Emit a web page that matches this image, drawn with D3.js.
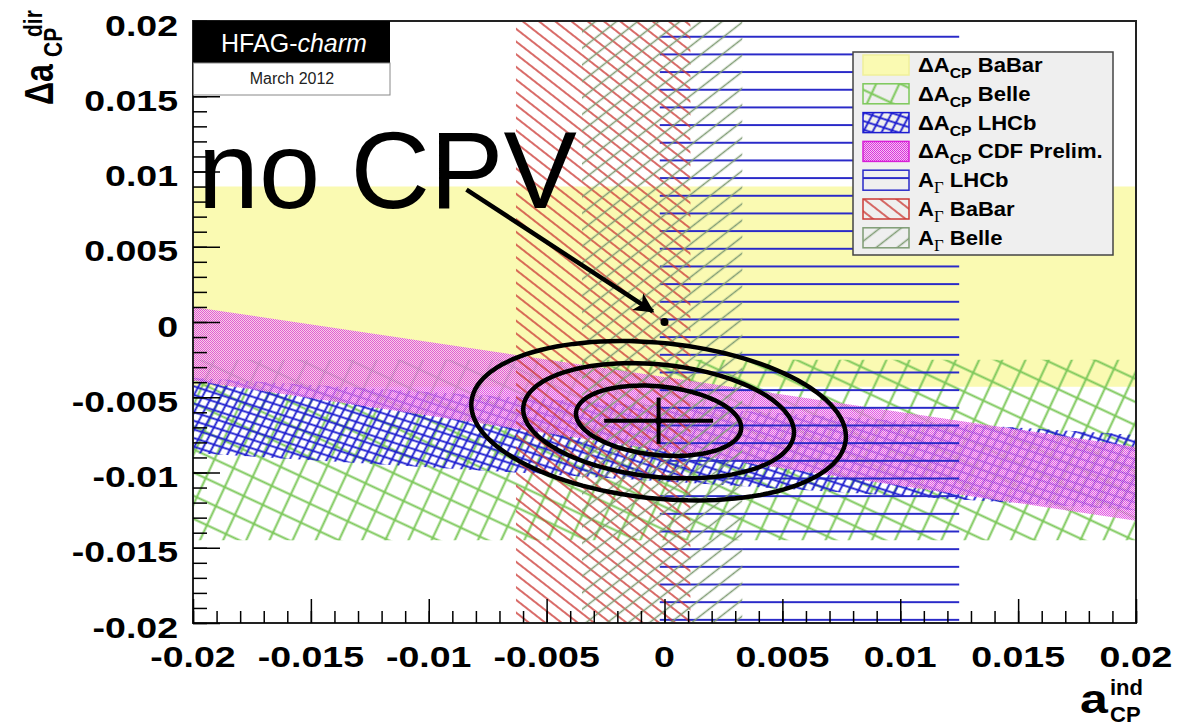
<!DOCTYPE html>
<html>
<head>
<meta charset="utf-8">
<script src="https://cdn.jsdelivr.net/npm/d3@7"></script>
<style>
    body { margin: 0; background: #fff; }
    text { font-family: 'Liberation Sans', Arial, sans-serif; }
</style>
</head>
<body>
<svg id="chart" width="1186" height="728"></svg>
<script>

// axis ticks
var xTicks = [-0.02, -0.015, -0.01, -0.005, 0, 0.005, 0.01, 0.015, 0.02];
var xTickLabels = ['-0.02', '-0.015', '-0.01', '-0.005', '0', '0.005', '0.01', '0.015', '0.02'];
var yTicks = [-0.02, -0.015, -0.01, -0.005, 0, 0.005, 0.01, 0.015, 0.02];
var yTickLabels = ['-0.02', '-0.015', '-0.01', '-0.005', '0', '0.005', '0.01', '0.015', '0.02'];

// Delta A_CP bands: [top, bottom] of delta a_dir at a_ind = -0.02 and at a_ind = +0.02
var dacpNames = ['BaBar', 'Belle', 'LHCb', 'CDF Prelim.'];
var dacpLeft = [[0.0090, -0.0043], [-0.0025, -0.0145], [-0.0037, -0.0087], [0.0010, -0.0039]];
var dacpRight = [[0.0090, -0.0043], [-0.0025, -0.0145], [-0.0075, -0.0125], [-0.0083, -0.0132]];

// A_Gamma bands: a_ind range
var agNames = ['LHCb', 'BaBar', 'Belle'];
var agRanges = [[-0.0002, 0.0125], [-0.0063, 0.0011], [-0.0035, 0.0033]];

// combined fit
var fitCenter = [-0.00025, -0.00656];
var fitSigma = [0.00231, 0.00154];
var fitRho = -0.2;
var chi2Levels = [2.30, 6.18, 11.83];

// annotation
var noCpvPoint = [0, 0];
var arrowFrom = [-0.0084, 0.0088];
var arrowTo = [-0.0005, 0.0007];
var labelPos = [-0.0198, 0.0076];

var margin = {top: 21, right: 50, bottom: 105, left: 193},
    width = 1186 - margin.left - margin.right,
    height = 728 - margin.top - margin.bottom;

var x = d3.scaleLinear().domain([-0.02, 0.02]).range([margin.left, margin.left + width]);
var y = d3.scaleLinear().domain([-0.02, 0.02]).range([margin.top + height, margin.top]);

var svg = d3.select('#chart');
var defs = svg.append('defs');

defs.append('clipPath').attr('id', 'frame-clip')
    .append('rect')
    .attr('x', x(-0.02)).attr('y', y(0.02))
    .attr('width', width).attr('height', height);

function hatch(id, angle, spacing, color, lw, offset) {
    var p = defs.append('pattern')
        .attr('id', id)
        .attr('patternUnits', 'userSpaceOnUse')
        .attr('width', 40)
        .attr('height', spacing)
        .attr('y', offset || 0)
        .attr('patternTransform', 'rotate(' + angle + ')');
    p.append('line')
        .attr('x1', 0).attr('x2', 40)
        .attr('y1', spacing / 2).attr('y2', spacing / 2)
        .attr('stroke', color)
        .attr('stroke-width', lw);
}

hatch('belle-a', -65, 21, '#7cc85a', 1.8);
hatch('belle-b', 25, 21, '#7cc85a', 1.8);
hatch('lhcb-a', -62, 8.2, '#1c1cd0', 1.8);
hatch('lhcb-b', 18, 8.2, '#1c1cd0', 1.8);
hatch('ag-lhcb', 0, 17.67, '#2a2ac8', 2, 1.4 - 17.67 / 2);
hatch('ag-babar', 38, 10, '#cc3a36', 1.6);
hatch('ag-belle', -38, 13, '#7f9c74', 1.6);

var dots = defs.append('pattern')
    .attr('id', 'cdf-dots')
    .attr('patternUnits', 'userSpaceOnUse')
    .attr('width', 2).attr('height', 2);
dots.append('rect').attr('width', 2).attr('height', 2).attr('fill', '#f4c4f4');
dots.append('rect').attr('x', 0).attr('y', 0).attr('width', 1).attr('height', 1).attr('fill', '#dc30dc');
dots.append('rect').attr('x', 1).attr('y', 1).attr('width', 1).attr('height', 1).attr('fill', '#dc30dc');

defs.append('marker')
    .attr('id', 'arrow-head')
    .attr('markerUnits', 'userSpaceOnUse')
    .attr('viewBox', '0 0 10 10')
    .attr('refX', 9).attr('refY', 5)
    .attr('markerWidth', 24).attr('markerHeight', 20)
    .attr('orient', 'auto')
    .append('path')
    .attr('d', 'M0,0 L10,5 L0,10 L2.5,5 Z')
    .attr('fill', '#000');

var plot = svg.append('g').attr('clip-path', 'url(#frame-clip)');

function bandPoints(i) {
    return [
        [x(-0.02), y(dacpLeft[i][0])],
        [x(0.02), y(dacpRight[i][0])],
        [x(0.02), y(dacpRight[i][1])],
        [x(-0.02), y(dacpLeft[i][1])]
    ].join(' ');
}

function stripPoints(i) {
    return [
        [x(agRanges[i][0]), y(0.02)],
        [x(agRanges[i][1]), y(0.02)],
        [x(agRanges[i][1]), y(-0.02)],
        [x(agRanges[i][0]), y(-0.02)]
    ].join(' ');
}

// Delta A_CP: BaBar, Belle, LHCb, CDF
plot.append('polygon').attr('points', bandPoints(0)).attr('fill', '#fafab2');
plot.append('polygon').attr('points', bandPoints(1)).attr('fill', 'url(#belle-a)');
plot.append('polygon').attr('points', bandPoints(1)).attr('fill', 'url(#belle-b)');
plot.append('polygon').attr('points', bandPoints(2)).attr('fill', 'url(#lhcb-a)');
plot.append('polygon').attr('points', bandPoints(2)).attr('fill', 'url(#lhcb-b)');
plot.append('polygon').attr('points', bandPoints(3)).attr('fill', 'url(#cdf-dots)').attr('fill-opacity', 0.78);

// A_Gamma: LHCb, BaBar, Belle
plot.append('polygon').attr('points', stripPoints(0)).attr('fill', 'url(#ag-lhcb)');
plot.append('polygon').attr('points', stripPoints(1)).attr('fill', 'url(#ag-babar)');
plot.append('polygon').attr('points', stripPoints(2)).attr('fill', 'url(#ag-belle)');

// fit contours
var ellipseLine = d3.line()
    .x(function(d) { return x(d[0]); })
    .y(function(d) { return y(d[1]); })
    .curve(d3.curveLinearClosed);

chi2Levels.forEach(function(c) {
    var k = Math.sqrt(c);
    var pts = d3.range(0, 360, 3).map(function(deg) {
        var t = deg * Math.PI / 180;
        var u = Math.cos(t), v = Math.sin(t);
        return [fitCenter[0] + k * fitSigma[0] * u,
                fitCenter[1] + k * fitSigma[1] * (fitRho * u + Math.sqrt(1 - fitRho * fitRho) * v)];
    });
    svg.append('path')
        .attr('d', ellipseLine(pts))
        .attr('fill', 'none')
        .attr('stroke', '#000')
        .attr('stroke-width', 4.5);
});

svg.append('line')
    .attr('x1', x(fitCenter[0] - fitSigma[0])).attr('x2', x(fitCenter[0] + fitSigma[0]))
    .attr('y1', y(fitCenter[1])).attr('y2', y(fitCenter[1]))
    .attr('stroke', '#000').attr('stroke-width', 4);
svg.append('line')
    .attr('x1', x(fitCenter[0])).attr('x2', x(fitCenter[0]))
    .attr('y1', y(fitCenter[1] - fitSigma[1])).attr('y2', y(fitCenter[1] + fitSigma[1]))
    .attr('stroke', '#000').attr('stroke-width', 4);
svg.append('circle')
    .attr('cx', x(fitCenter[0])).attr('cy', y(fitCenter[1]))
    .attr('r', 3.5).attr('fill', '#000');

// frame and ticks
svg.append('rect')
    .attr('x', x(-0.02)).attr('y', y(0.02))
    .attr('width', width).attr('height', height)
    .attr('fill', 'none')
    .attr('stroke', '#222')
    .attr('stroke-width', 2);

var xMinor = svg.append('g')
    .attr('transform', 'translate(0,' + y(-0.02) + ')')
    .call(d3.axisBottom(x).tickValues(x.ticks(40)).tickSize(-12).tickFormat(''));
var xMajor = svg.append('g')
    .attr('transform', 'translate(0,' + y(-0.02) + ')')
    .call(d3.axisBottom(x).tickValues(xTicks).tickSize(-24).tickFormat(''));
var yMinor = svg.append('g')
    .attr('transform', 'translate(' + x(-0.02) + ',0)')
    .call(d3.axisLeft(y).tickValues(y.ticks(40)).tickSize(-14).tickFormat(''));
var yMajor = svg.append('g')
    .attr('transform', 'translate(' + x(-0.02) + ',0)')
    .call(d3.axisLeft(y).tickValues(yTicks).tickSize(-27).tickFormat(''));

[xMinor, xMajor, yMinor, yMajor].forEach(function(g) {
    g.select('.domain').remove();
    g.selectAll('line').attr('stroke', '#000').attr('stroke-width', 1.5);
});

svg.selectAll('.x-label')
    .data(xTicks)
    .enter()
    .append('text')
    .attr('class', 'x-label')
    .attr('transform', function(d) { return 'translate(' + x(d) + ',667) scale(1.25,1)'; })
    .attr('text-anchor', 'middle')
    .attr('font-size', '30px')
    .attr('font-weight', 'bold')
    .text(function(d, i) { return xTickLabels[i]; });

svg.selectAll('.y-label')
    .data(yTicks)
    .enter()
    .append('text')
    .attr('class', 'y-label')
    .attr('transform', function(d) { return 'translate(178,' + (y(d) + 14.5) + ') scale(1.25,1)'; })
    .attr('text-anchor', 'end')
    .attr('font-size', '30px')
    .attr('font-weight', 'bold')
    .text(function(d, i) { return yTickLabels[i]; });

// axis titles
var yTitle = svg.append('g')
    .attr('transform', 'translate(53,105) scale(1.25,1) rotate(-90)')
    .attr('font-weight', 'bold');
yTitle.append('text').attr('x', 0).attr('y', 0).attr('font-size', '32px').text('\u0394a');
yTitle.append('text').attr('x', 48).attr('y', 7).attr('font-size', '21px').text('CP');
yTitle.append('text').attr('x', 68).attr('y', -9).attr('font-size', '21px').text('dir');

var xTitle = svg.append('g').attr('font-weight', 'bold');
xTitle.append('text').attr('transform', 'translate(1080,713) scale(1.25,1)').attr('font-size', '40px').text('a');
xTitle.append('text').attr('x', 1110).attr('y', 695).attr('font-size', '22px').text('ind');
xTitle.append('text').attr('x', 1110).attr('y', 722).attr('font-size', '22px').text('CP');

// HFAG stamp
svg.append('rect')
    .attr('x', 193).attr('y', 21).attr('width', 197).attr('height', 42)
    .attr('fill', '#000');
svg.append('rect')
    .attr('x', 193.5).attr('y', 63).attr('width', 196.5).attr('height', 32)
    .attr('fill', '#fff').attr('stroke', '#888').attr('stroke-width', 1);
var stamp = svg.append('text')
    .attr('x', 294).attr('y', 52)
    .attr('text-anchor', 'middle')
    .attr('font-size', '25px')
    .attr('fill', '#fff');
stamp.append('tspan').text('HFAG-');
stamp.append('tspan').attr('font-style', 'italic').text('charm');
svg.append('text')
    .attr('x', 292).attr('y', 84)
    .attr('text-anchor', 'middle')
    .attr('font-size', '16px')
    .attr('fill', '#222')
    .text('March 2012');

// legend
var legendX = 853, legendY = 52;
svg.append('rect')
    .attr('x', legendX).attr('y', legendY)
    .attr('width', 260).attr('height', 203)
    .attr('fill', '#efefef')
    .attr('stroke', '#444')
    .attr('stroke-width', 1.5);

var legendFills = [
    ['#fafab2'], ['url(#belle-a)', 'url(#belle-b)'], ['url(#lhcb-a)', 'url(#lhcb-b)'], ['url(#cdf-dots)'],
    ['url(#ag-lhcb)'], ['url(#ag-babar)'], ['url(#ag-belle)']
];
var legendStrokes = ['#f0f09a', '#7cc85a', '#1c1cd0', '#d81ed8', '#2a2ac8', '#cc3a36', '#7f9c74'];

legendFills.forEach(function(fills, i) {
    var base = 72 + i * 28.8;
    fills.forEach(function(f) {
        svg.append('rect')
            .attr('x', 863).attr('y', base - 17)
            .attr('width', 46).attr('height', 20)
            .attr('fill', f);
    });
    svg.append('rect')
        .attr('x', 863).attr('y', base - 17)
        .attr('width', 46).attr('height', 20)
        .attr('fill', 'none')
        .attr('stroke', legendStrokes[i])
        .attr('stroke-width', 1.5);

    var t = svg.append('text')
        .attr('transform', 'translate(918,' + base + ') scale(1.05,1)')
        .attr('font-size', '21px')
        .attr('font-weight', 'bold');
    if (i < 4) {
        t.append('tspan').text('\u0394A');
        t.append('tspan').attr('font-size', '15px').attr('dy', 6).text('CP');
        t.append('tspan').attr('dy', -6).text(' ' + dacpNames[i]);
    } else {
        t.append('tspan').text('A');
        t.append('tspan').attr('font-size', '16px').attr('dy', 6)
            .attr('font-family', 'Liberation Serif, serif').attr('font-weight', 'normal').text('\u0393');
        t.append('tspan').attr('dy', -6).text(' ' + agNames[i - 4]);
    }
});

// no CPV annotation
svg.append('text')
    .attr('x', x(labelPos[0])).attr('y', y(labelPos[1]))
    .attr('font-family', 'DejaVu Sans, sans-serif')
    .attr('font-size', '110px')
    .attr('fill', '#000')
    .text('no CPV');

svg.append('line')
    .attr('x1', x(arrowFrom[0])).attr('y1', y(arrowFrom[1]))
    .attr('x2', x(arrowTo[0])).attr('y2', y(arrowTo[1]))
    .attr('stroke', '#000')
    .attr('stroke-width', 4.5)
    .attr('marker-end', 'url(#arrow-head)');

svg.append('circle')
    .attr('cx', x(noCpvPoint[0])).attr('cy', y(noCpvPoint[1]))
    .attr('r', 4).attr('fill', '#000');

</script>
</body>
</html>
